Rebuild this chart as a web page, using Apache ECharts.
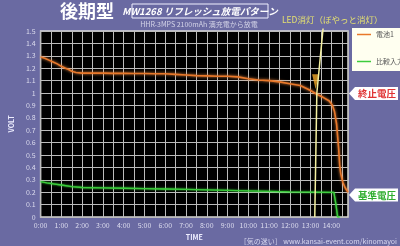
<!DOCTYPE html>
<html><head><meta charset="utf-8">
<script src="https://cdn.jsdelivr.net/npm/echarts@6/dist/echarts.min.js"></script>
<style>html,body{margin:0;padding:0;background:#6a6aa2;}#c{width:400px;height:246px;}</style>
</head><body><div id="c"></div>
<script>
const seriesNames = ['電池1', '比較入力'];
const orangeTime = [0,0.2,0.4,0.6,0.8,1.0,1.2,1.35,1.5,1.7,2.0,2.5,3.0,3.5,4.0,4.5,5.0,5.5,6.0,6.5,7.0,7.5,8.0,8.5,9.0,9.5,10.0,10.5,11.0,11.5,12.0,12.5,13.0,13.3,13.6,13.9,14.05,14.15,14.25,14.3,14.35,14.4,14.45,14.55,14.65,14.8];
const orangeVolt = [1.29,1.28,1.265,1.25,1.235,1.215,1.2,1.19,1.175,1.165,1.16,1.16,1.16,1.158,1.158,1.157,1.157,1.155,1.155,1.15,1.145,1.14,1.138,1.135,1.135,1.13,1.115,1.105,1.1,1.09,1.075,1.06,1.02,0.99,0.965,0.935,0.9,0.85,0.75,0.65,0.55,0.42,0.35,0.28,0.24,0.2];
const greenTime = [0,0.3,0.6,1.0,1.5,2.0,3.0,4.0,5.0,6.0,7.0,8.0,9.0,10.0,11.0,12.0,13.0,14.0,14.12,14.22,14.3,14.4];
const greenVolt = [0.285,0.275,0.268,0.258,0.245,0.238,0.235,0.232,0.229,0.226,0.222,0.218,0.214,0.21,0.206,0.202,0.2,0.198,0.198,0.1,0.0,0.0];
const ledLineTime = [13.6,13.3,13.2];
const ledLineVolt = [1.52,1.0,0];
const arrowPoint = [13.24,1.09];
const xTickLabels = ['0:00','1:00','2:00','3:00','4:00','5:00','6:00','7:00','8:00','9:00','10:00','11:00','12:00','13:00','14:00'];

const zip = (a,b) => a.map((v,i)=>[v,b[i]]);
const F = '"Noto Sans CJK JP","Noto Sans",sans-serif';
const chart = echarts.init(document.getElementById('c'), null, {renderer:'canvas'});
chart.setOption({
  backgroundColor:'#6a6aa2',
  animation:false,
  textStyle:{fontFamily:F},
  grid:{left:27,top:31,right:52,bottom:26,show:true,backgroundColor:'#000',borderColor:'#d8d8d8',borderWidth:1.5},
  legend:{data:seriesNames,left:352,top:28,orient:'vertical',backgroundColor:'#fffff0',padding:[3,8,6,5],itemGap:20,icon:'rect',itemWidth:14,itemHeight:1.5,textStyle:{fontSize:7,color:'#555',fontFamily:F}},
  xAxis:{type:'value',min:0,max:14.8,interval:0.5,name:'TIME',nameLocation:'middle',nameGap:17,
    nameTextStyle:{color:'#eeeeff',fontSize:7,fontWeight:'bold'},
    axisLine:{show:false},axisTick:{show:false},
    axisLabel:{fontSize:7,color:'#dcdcee',margin:5,showMaxLabel:false,formatter:v=>Number.isInteger(v)?xTickLabels[v]:''},
    splitLine:{show:true,lineStyle:{color:'#bcbcbc',width:1}}},
  yAxis:{type:'value',min:0,max:1.5,interval:0.1,name:'VOLT',nameLocation:'middle',nameGap:18,nameRotate:90,
    nameTextStyle:{color:'#eeeeff',fontSize:7,fontWeight:'bold'},
    axisLine:{show:false},axisTick:{show:false},
    axisLabel:{fontSize:7,color:'#dcdcee',margin:5,formatter:v=>String(+v.toFixed(1))},
    splitLine:{show:true,lineStyle:{color:'#bcbcbc',width:1}}},
  series:[
    {name:seriesNames[0],type:'line',data:zip(orangeTime,orangeVolt),showSymbol:false,color:'#e8782a',
     lineStyle:{width:1.6,color:'#e8782a',shadowBlur:3,shadowColor:'#ff9040'}},
    {name:seriesNames[1],type:'line',data:zip(greenTime,greenVolt),showSymbol:false,color:'#3ccc3c',
     lineStyle:{width:1.3,color:'#3ccc3c',shadowBlur:2,shadowColor:'#40ff40'}},
    {name:'led',type:'line',data:zip(ledLineTime,ledLineVolt),showSymbol:false,clip:false,silent:true,
     lineStyle:{width:1.5,color:'#f4f0a0'}},
    {name:'arrow',type:'scatter',data:[arrowPoint],symbol:'triangle',symbolRotate:180,symbolSize:[7,15],clip:false,silent:true,
     itemStyle:{color:'#f0a828'}}
  ],
  graphic:[
    {type:'text',x:87,y:11,style:{text:'後期型',font:'bold 18px '+F,fill:'#ffffff',align:'center',verticalAlign:'middle'}},
    {type:'rect',shape:{x:132,y:4,width:136,height:14},style:{fill:'none',stroke:'#f0f0ff',lineWidth:1}},
    {type:'text',x:200,y:11,style:{text:'MW1268 リフレッシュ放電パターン',font:'italic bold 9.5px '+F,fill:'#ffffff',align:'center',verticalAlign:'middle'}},
    {type:'text',x:199,y:24,style:{text:'HHR-3MPS 2100mAh 満充電から放電',font:'7px '+F,fill:'#d4d4e8',align:'center',verticalAlign:'middle'}},
    {type:'text',x:282,y:20,style:{text:'LED消灯（ぼやっと消灯）',font:'8.5px '+F,fill:'#e4e070',align:'left',verticalAlign:'middle'}},
    {type:'polygon',shape:{points:[[349,93.5],[355,87],[398,87],[398,100],[355,100]]},style:{fill:'#ffffff'}},
    {type:'text',x:377,y:93.5,style:{text:'終止電圧',font:'bold 9.5px '+F,fill:'#e03434',align:'center',verticalAlign:'middle'}},
    {type:'polygon',shape:{points:[[349,195],[355,188.5],[398,188.5],[398,201.5],[355,201.5]]},style:{fill:'#ffffff'}},
    {type:'text',x:377,y:195,style:{text:'基準電圧',font:'bold 9.5px '+F,fill:'#2fae2f',align:'center',verticalAlign:'middle'}},
    {type:'text',x:397,y:241,style:{text:'［気の迷い］ www.kansai-event.com/kinomayoi',font:'7px '+F,fill:'#d8d8f0',align:'right',verticalAlign:'middle'}}
  ]
});
</script></body></html>
